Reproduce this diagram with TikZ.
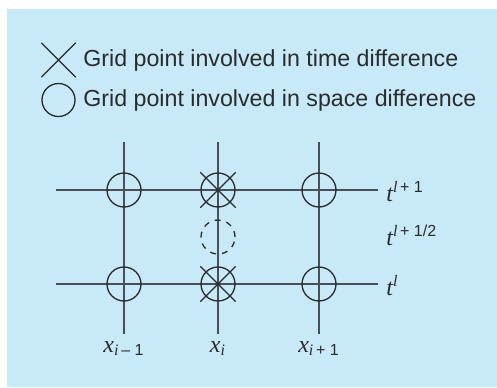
\documentclass[tikz,border=0pt]{standalone}
\usepackage{amsmath}
\usepackage{fontspec}
\setmainfont{Liberation Sans}
\newfontfamily\varfont{Liberation Serif}
\usetikzlibrary{shapes.misc}
\definecolor{GridSky}{HTML}{C7E9F8}
\definecolor{GridInk}{HTML}{2B2B2B}
\definecolor{GridRule}{HTML}{4A4F55}
\newcommand{\gvar}[1]{{\varfont\itshape #1}}
\tikzset{
  leglabel/.style={font=\fontsize{11.6}{14}\selectfont, text=GridInk, anchor=west, inner sep=0pt},
  axlabel/.style={font=\fontsize{12}{14}\selectfont, text=GridInk, inner sep=0pt},
  gridline/.style={draw=GridRule, line width=0.75pt},
  spacept/.style={circle, draw=GridInk, line width=0.65pt, minimum size=17pt, inner sep=0pt},
  timept/.style={cross out, draw=GridInk, line width=0.65pt, minimum size=17pt, inner sep=0pt},
  halfpt/.style={spacept, dashed}
}

\begin{document}
\begin{tikzpicture}[x=0.5pt, y=-0.5pt]
\useasboundingbox (0,0) rectangle (497,387);
\fill[GridSky] (7,9) rectangle (497,387);
% legend
\node[timept, minimum size=16.5pt] (legx) at (58.5,60) {};
\node[spacept, minimum size=16.5pt] (lego) at (58.5,100) {};
\node[leglabel] (legxt) at (83,60) {Grid point involved in time difference};
\node[leglabel] (legot) at (83,100) {Grid point involved in space difference};
% grid lines
\foreach \c/\xx in {a/124,b/218,c/319}{
  \coordinate (top\c) at (\xx,142);
  \coordinate (bot\c) at (\xx,334);
  \draw[gridline] (top\c) -- (bot\c);
}
\foreach \r/\yy in {up/190,lo/284}{
  \coordinate (w\r) at (56,\yy);
  \coordinate (e\r) at (378,\yy);
  \draw[gridline] (w\r) -- (e\r);
}
% grid points
\foreach \c/\xx in {a/124,b/218,c/319}
  \foreach \r/\yy in {up/190,lo/284}
    \node[spacept] (p\c\r) at (\xx,\yy) {};
\node[timept] (xbup) at (pbup) {};
\node[timept] (xblo) at (pblo) {};
\node[halfpt] (pbmid) at (218,237) {};
% labels
\node[axlabel, anchor=base west] (tup) at (386,201) {\gvar{t}$^{\text{\gvar{l}\,+ 1}}$};
\node[axlabel, anchor=base west] (tmid) at (386,245) {\gvar{t}$^{\text{\gvar{l}\,+ 1/2}}$};
\node[axlabel, anchor=base west] (tlo) at (386,295) {\gvar{t}$^{\text{\gvar{l}}}$};
\node[axlabel, anchor=base] (xa) at (124,352) {\gvar{x}$_{\text{\gvar{i}\,– 1}}$};
\node[axlabel, anchor=base] (xb) at (218,352) {\gvar{x}$_{\text{\gvar{i}}}$};
\node[axlabel, anchor=base] (xc) at (319,352) {\gvar{x}$_{\text{\gvar{i}\,+ 1}}$};
\end{tikzpicture}
\end{document}
